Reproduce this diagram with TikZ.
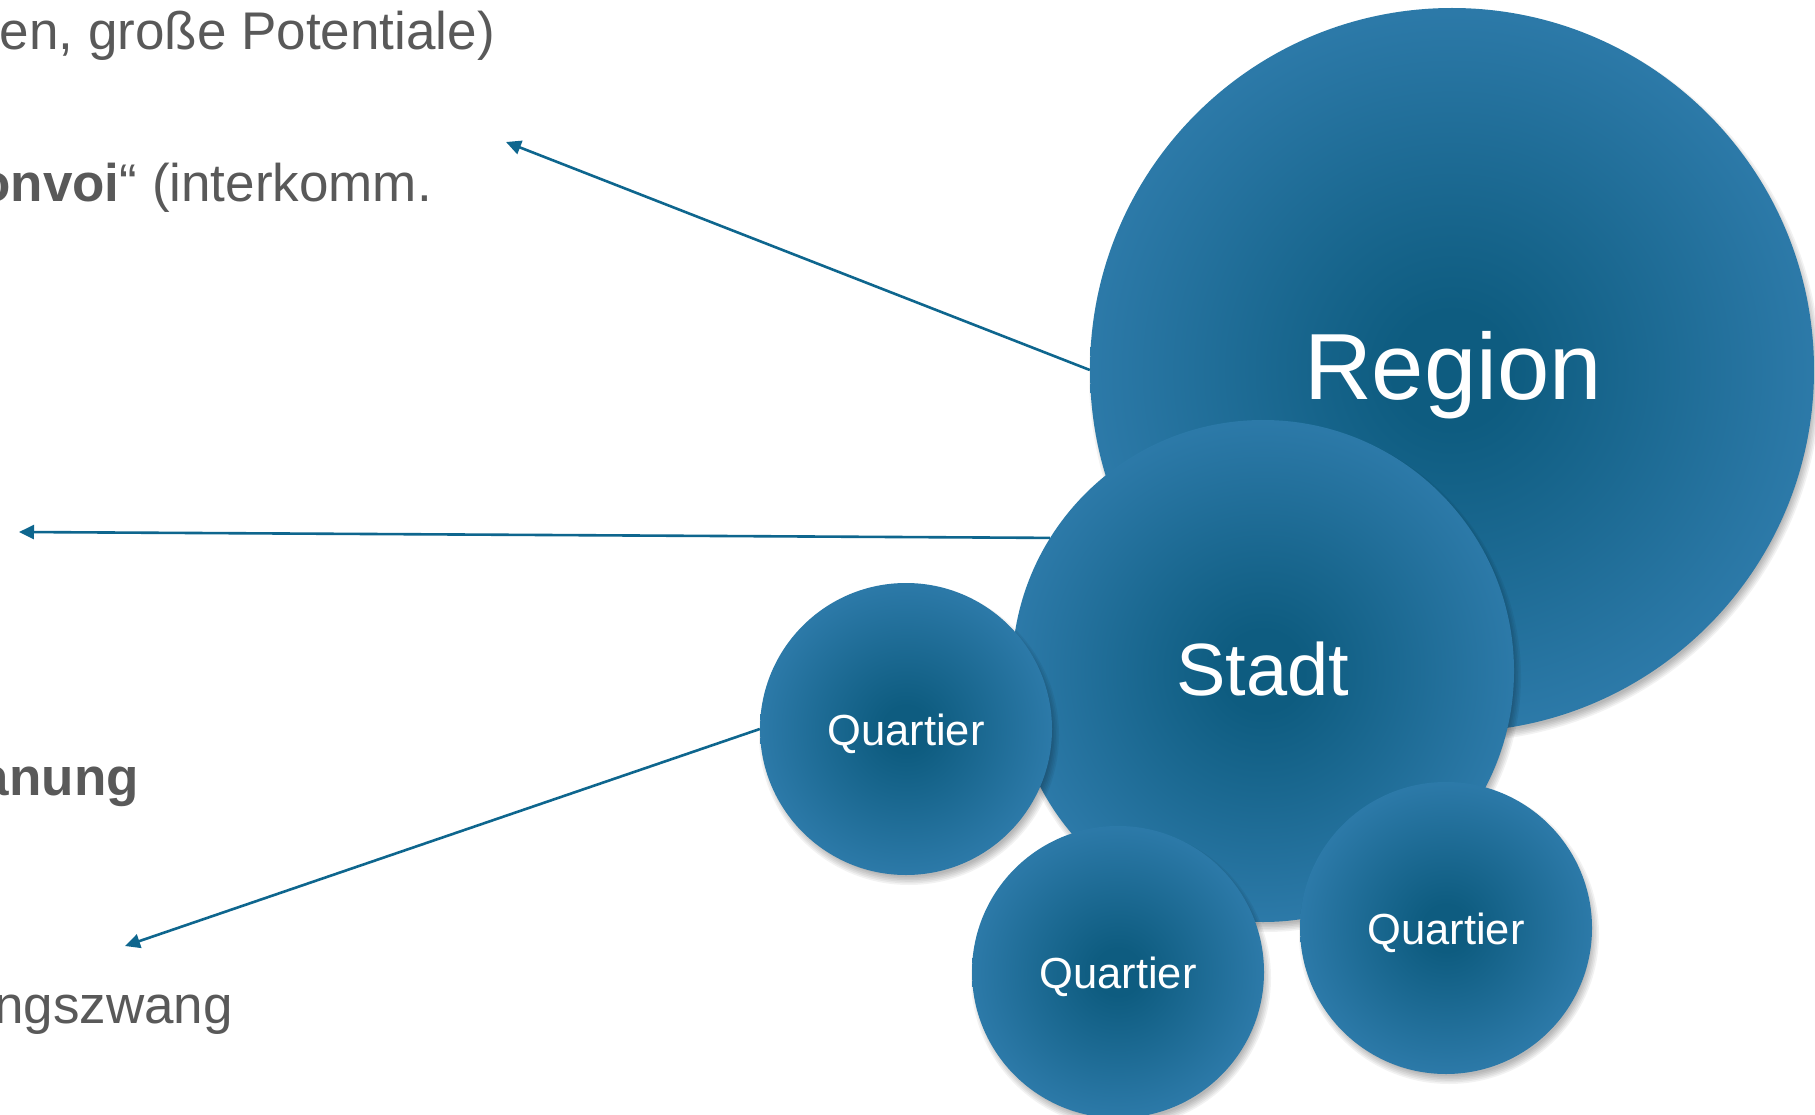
\documentclass[tikz,border=0pt]{standalone}
\usepackage{fontspec}
\setmainfont{Liberation Sans}
\usetikzlibrary{arrows.meta}

\definecolor{bubbledark}{RGB}{14,92,128}
\definecolor{bubblelight}{RGB}{53,130,180}
\definecolor{arrowblue}{RGB}{14,102,142}
\definecolor{textgray}{RGB}{89,89,89}

% dark core fading to a lighter rim
\pgfdeclareradialshading{bubble}{\pgfpoint{0bp}{0bp}}{%
  color(0bp)=(bubbledark); color(4bp)=(bubbledark);
  color(31bp)=(bubblelight); color(50bp)=(bubblelight)}

% soft drop shadow below a circle: centre x, centre y, radius
\newcommand\bubbleshadow[3]{%
  \foreach \k in {0,...,5}{%
    \fill[black, opacity=0.05] (#1+3,#2+6) circle[radius={(#3+4-\k*1.6)*1pt}];
  }%
}

\begin{document}
\begin{tikzpicture}[x=1pt,y=-1pt,
  bubble/.style={circle, inner sep=0pt, minimum size=#1, shading=bubble},
  bubbletext/.style={anchor=base, inner sep=0pt, text=white, font=\fontsize{#1}{#1}\selectfont},
  pointer/.style={draw=arrowblue, line width=2.6pt, -{Triangle[length=15pt,width=14pt]}},
  note/.style={anchor=base east, inner sep=0pt, text=textgray,
    font=\fontsize{53}{60}\selectfont}]
\useasboundingbox (0,0) rectangle (1815,1115);
\fill[white] (0,0) rectangle (1815,1115);

% circles, largest first
\bubbleshadow{1452}{370}{362}
\node[bubble=724pt] (region) at (1452,370) {};
\node[bubbletext=94] (regionlabel) at (1453,399) {Region};
\bubbleshadow{1263}{671}{251}
\node[bubble=502pt] (stadt) at (1263,671) {};
\node[bubbletext=74] (stadtlabel) at (1263,695) {Stadt};
\bubbleshadow{906}{729}{146}
\node[bubble=292pt] (qleft) at (906,729) {};
\node[bubbletext=43.5] (qleftlabel) at (906,745) {Quartier};
\bubbleshadow{1446}{928}{146}
\node[bubble=292pt] (qright) at (1446,928) {};
\node[bubbletext=43.5] (qrightlabel) at (1446,944) {Quartier};
\bubbleshadow{1118}{972}{146}
\node[bubble=292pt] (qbottom) at (1118,972) {};
\node[bubbletext=43.5] (qbottomlabel) at (1118,988) {Quartier};

% text lines on the left
\node[note] (t1) at (495,50) {en, große Potentiale)};
\node[note] (t2) at (432,202) {\textbf{onvoi}“ (interkomm.};
\node[note] (t3) at (139,795) {\textbf{anung}};
\node[note] (t4) at (233,1023) {ngszwang};

% pointers from the circles to the text
\coordinate (tipA) at (506,142);
\coordinate (tipB) at (19,532);
\coordinate (tipC) at (125,946);
\draw[pointer] (region.west) -- (tipA);
\draw[pointer] (stadt.148) -- (tipB);
\draw[pointer] (qleft.west) -- (tipC);
\end{tikzpicture}
\end{document}
